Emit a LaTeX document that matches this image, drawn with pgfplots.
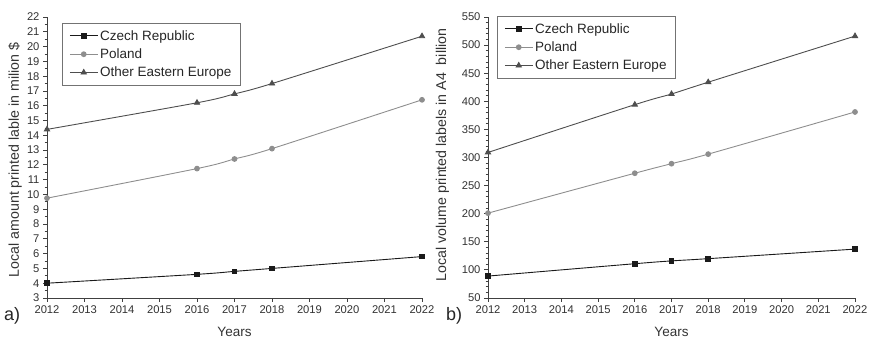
\documentclass[border=0pt]{standalone}
\usepackage{pgfplots}
\pgfplotsset{compat=1.18}
\usepackage{fontspec}
\setmainfont{Liberation Sans}
\definecolor{czc}{HTML}{1A1A1A}
\definecolor{plc}{HTML}{8E8E8E}
\definecolor{oec}{HTML}{4E4E4E}
\pgfplotsset{
  myaxis/.style={
    scale only axis,
    anchor=south west,
    axis x line=bottom, axis y line=left,
    axis line style={-, color=black!75, line width=0.9pt},
    xmin=2012, xmax=2022,
    xtick={2012,...,2022},
    x tick label style={/pgf/number format/1000 sep={}},
    tick align=outside,
    major tick length=4pt, minor tick length=2.5pt,
    every tick/.style={black!75, line width=0.8pt},
    tick label style={font=\fontsize{11.2}{13}\selectfont, text=black!80},
    /pgf/number format/assume math mode=true,
    xlabel={Years},
    x label style={at={(axis description cs:0.5,0)}, anchor=north, inner sep=0pt, yshift=-29pt, font=\fontsize{13.5}{15}\selectfont, text=black!80},
    y label style={anchor=center, inner sep=0pt, font=\fontsize{14.2}{16}\selectfont, text=black!80},
    legend cell align=left,
    legend style={draw=black!55, line width=0.6pt, font=\fontsize{13.5}{16}\selectfont, text=black!85, inner xsep=7pt, inner ysep=5pt, row sep=3pt, anchor=north west},
    legend image code/.code={\draw[mark repeat=2,mark phase=2,#1] plot coordinates {(0pt,0pt) (14pt,0pt) (28pt,0pt)};},
    every axis plot/.append style={line width=0.9pt, smooth},
  },
  cz/.style={color=czc, mark=square*, mark size=2.3pt, mark options={solid}},
  pl/.style={color=plc, mark=*, mark size=2.4pt},
  oe/.style={color=oec, mark=triangle*, mark size=3pt},
}
\begin{document}
\begin{tikzpicture}[x=1pt,y=1pt]
\useasboundingbox (0,0) rectangle (870,340);
\begin{axis}[myaxis,
  at={(47pt,42pt)}, width=375pt, height=281pt,
  ymin=3, ymax=22, ytick={3,...,22}, minor y tick num=1,
  ylabel={Local amount printed lable in milion \$},
  y label style={at={(axis description cs:-0.085,0.491)}},
  legend style={at={(axis description cs:0,1)}, xshift=15pt, yshift=-6pt},
]
\addplot[cz] coordinates {(2012,4.0) (2016,4.6) (2017,4.8) (2018,5.0) (2022,5.8)};
\addlegendentry{Czech Republic}
\addplot[pl] coordinates {(2012,9.75) (2016,11.75) (2017,12.4) (2018,13.1) (2022,16.4)};
\addlegendentry{Poland}
\addplot[oe] coordinates {(2012,14.4) (2016,16.2) (2017,16.8) (2018,17.5) (2022,20.7)};
\addlegendentry{Other Eastern Europe}
\end{axis}
\node[font=\fontsize{18}{20}\selectfont, text=black!85, anchor=west, inner sep=0pt] at (4,24) {a)};
\begin{axis}[myaxis,
  at={(488pt,42pt)}, width=367pt, height=281pt,
  ymin=50, ymax=550, ytick={50,100,...,550}, minor y tick num=4,
  ylabel={Local volume printed labels in A4\ \ billion},
  y label style={at={(axis description cs:-0.124,0.509)}},
  legend style={at={(axis description cs:0,1)}, xshift=9pt, yshift=1pt},
]
\addplot[cz] coordinates {(2012,89) (2016,111) (2017,116) (2018,120) (2022,137)};
\addlegendentry{Czech Republic}
\addplot[pl] coordinates {(2012,201) (2016,272) (2017,289) (2018,306) (2022,381)};
\addlegendentry{Poland}
\addplot[oe] coordinates {(2012,309) (2016,394) (2017,413) (2018,434) (2022,516)};
\addlegendentry{Other Eastern Europe}
\end{axis}
\node[font=\fontsize{18}{20}\selectfont, text=black!85, anchor=west, inner sep=0pt] at (446,24) {b)};
\end{tikzpicture}
\end{document}
